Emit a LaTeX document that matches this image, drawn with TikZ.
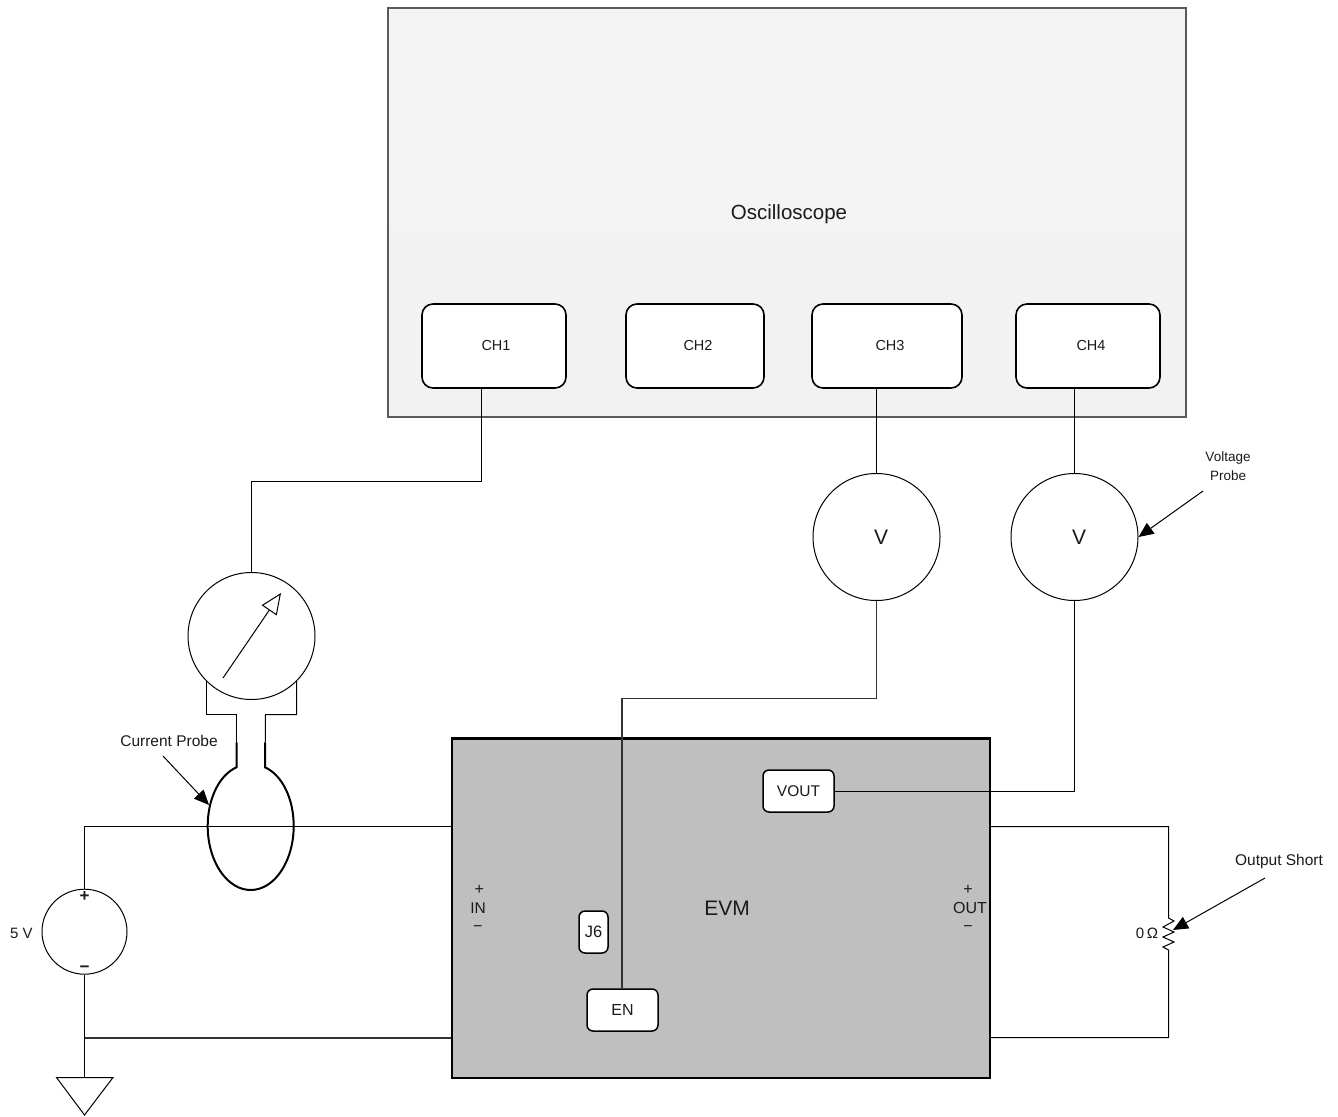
\documentclass[tikz,border=0pt]{standalone}
\usepackage{fontspec}
\setmainfont{Liberation Sans}
\usetikzlibrary{arrows.meta}
\definecolor{scope}{HTML}{F2F2F2}
\definecolor{scopetop}{HTML}{F4F4F4}
\definecolor{scopeedge}{HTML}{5A5A5A}
\definecolor{evm}{HTML}{BFBFBF}
\definecolor{inner}{HTML}{333333}
\definecolor{txt}{HTML}{1A1A1A}
\newcommand{\fsz}[1]{\fontsize{#1}{#1}\selectfont}
\tikzset{
  wire/.style={draw=black,line width=1pt},
  innerwire/.style={draw=inner,line width=1.2pt},
  chan/.style={draw=black,fill=white,line width=1.6pt,rounded corners=11pt,inner sep=0pt,minimum height=84pt,font=\fsz{14.5},text=txt},
  tag/.style={draw=black,fill=white,line width=1.5pt,rounded corners=6pt,inner sep=0pt,font=\fsz{15.5},text=txt},
  dial/.style={circle,draw=black,line width=1pt,fill=white,inner sep=0pt,minimum size=127pt,font=\fsz{21},text=txt},
  lbl/.style={inner sep=0pt,font=\fsz{15.5},text=txt,align=center},
  pointer/.style={draw=black,line width=1pt,-{Triangle[length=15pt,width=13pt,fill=black]}},
  clamp/.style={draw=black,line width=2pt}
}
\begin{document}
\begin{tikzpicture}[x=1pt,y=-1pt]
\useasboundingbox (0,0) rectangle (1338,1116);
% oscilloscope
\fill[scopetop] (388,8) rectangle (1186,226);
\fill[scope] (388,226) rectangle (1186,417);
\node[draw=scopeedge,line width=1.8pt,minimum width=798pt,minimum height=409pt,inner sep=0pt] (scope) at (787,212.5) {};
\node[lbl,font=\fsz{20.5}] (scopelabel) at (789,214) {Oscilloscope};
\node[chan,minimum width=144pt] (ch1) at (494,346) {\hspace*{4pt}\raisebox{-1pt}{CH1}};
\node[chan,minimum width=138pt] (ch2) at (695,346) {\hspace*{6pt}\raisebox{-1pt}{CH2}};
\node[chan,minimum width=150pt] (ch3) at (887,346) {\hspace*{6pt}\raisebox{-1pt}{CH3}};
\node[chan,minimum width=144pt] (ch4) at (1088,346) {\hspace*{6pt}\raisebox{-1pt}{CH4}};
% EVM
\node[fill=evm,draw=black,line width=1.3pt,minimum width=538pt,minimum height=339pt,inner sep=0pt] (evmbox) at (721,908.5) {};
\draw[line width=2.4pt] (evmbox.north west) -- (evmbox.north east);
\node[lbl,font=\fsz{21}] (evmlabel) at (727,908) {EVM};
\node[lbl,font=\fsz{16}] (inplus) at (479.3,890) {+};
\node[lbl] (inlabel) at (478,908) {IN};
\node[lbl,font=\fsz{16}] (inminus) at (477.7,929) {−};
\node[lbl,font=\fsz{16}] (outplus) at (968,890) {+};
\node[lbl,font=\fsz{16}] (outlabel) at (970,908) {OUT};
\node[lbl,font=\fsz{16}] (outminus) at (968,929) {−};
\node[tag,minimum width=71pt,minimum height=42pt] (vout) at (798.5,791) {VOUT};
\node[tag,minimum width=29pt,minimum height=42pt,font=\fsz{16.5}] (j6) at (593.5,932) {J6};
\node[tag,minimum width=71pt,minimum height=42pt,font=\fsz{16}] (en) at (622.5,1010) {EN};
% instruments
\node[dial] (meter) at (251.5,636) {};
\node[dial] (v1) at (876.5,537) {\hspace*{9pt}V};
\node[dial] (v2) at (1074.5,537) {\hspace*{9pt}V};
\coordinate (needlea) at (223,678);
\coordinate (needleb) at (281,593);
\draw[draw=black,line width=1pt,-{Triangle[open,length=21pt,width=18pt,fill=white]}] (needlea) -- (needleb);
% oscilloscope wiring
\draw[wire] ([xshift=-13pt]ch1.south) -- ++(0,93) -| (meter.north);
\draw[wire] ([xshift=-10.5pt]ch3.south) -- (v1.north);
\draw[wire] ([xshift=-13.5pt]ch4.south) -- (v2.north);
% current probe
\coordinate (lneck) at (236.5,767.3);
\coordinate (rneck) at (265,767.3);
\draw[wire] (206.5,681) -- (206.5,714.5) -- (236.5,714.5) -- (lneck);
\draw[wire] (296.5,681) -- (296.5,714.5) -- (265.5,714.5) -- (rneck);
\draw[clamp] (236.5,742.5) -- (lneck) .. controls (219.4,774.9) and (207.7,798.5) .. (207.7,826)
  .. controls (207.7,861.3) and (227,890) .. (250.7,890)
  .. controls (274.4,890) and (293.7,861.3) .. (293.7,826)
  .. controls (293.7,798.5) and (282,774.9) .. (rneck) -- (265,742.5);
% source
\node[circle,draw=black,line width=1pt,fill=white,inner sep=0pt,minimum size=85pt] (src) at (84.5,931.7) {};
\node[lbl,font=\fsz{17}\bfseries] at (84.5,897) (srcplus) {+};
\node[lbl,font=\fsz{17}\bfseries] at (84.5,969) (srcminus) {−};
\node[lbl,font=\fsz{15}] (srclabel) at (21.5,933) {5 V};
% ground
\draw[line width=1pt,fill=white] (56.5,1077.5) -- (113,1077.5) -- (84.5,1115) -- cycle;
\coordinate (gnd) at (84.5,1077.5);
\draw[wire] (src.south) -- (gnd);
\coordinate (lowl) at (84.5,1038);
\draw[innerwire] (lowl) -- (evmbox.west |- lowl);
\draw[wire] (src.north) -- (84.5,826.5) -- (evmbox.west |- 0,826.5);
% output short
\coordinate (rtop) at (1168.5,918);
\coordinate (rbot) at (1168.5,950);
\draw[wire,line join=miter] (evmbox.east |- 0,826.5) -| (rtop) -- (1174,921) -- (1163,927) -- (1174,932) -- (1163,937) -- (1174,942) -- (1163,947) -- (rbot) |- (evmbox.east |- 0,1037.5);
\node[lbl,font=\fsz{15}] (rlabel) at (1147,933) {0\,Ω};
\node[lbl] (shortlabel) at (1279,861) {Output Short};
\coordinate (shorta) at (1265,878);
\coordinate (shortb) at (1173,930);
\draw[pointer] (shorta) -- (shortb);
% probes labels
\node[lbl] (cplabel) at (169,741) {Current Probe};
\coordinate (cpa) at (163,756);
\draw[pointer] (cpa) -- (209,805);
\node[lbl,font=\fontsize{13.5}{18.5}\selectfont] (vplabel) at (1228,466) {Voltage\\Probe};
\coordinate (vpa) at (1203,491);
\draw[pointer] (vpa) -- (v2.east);
% EVM wiring
\draw[innerwire] (v1.south) -- (876.5,698.5) -- (622,698.5) -- (en.north -| 622,0);
\draw[wire] (v2.south) |- (vout.east);
\end{tikzpicture}
\end{document}
